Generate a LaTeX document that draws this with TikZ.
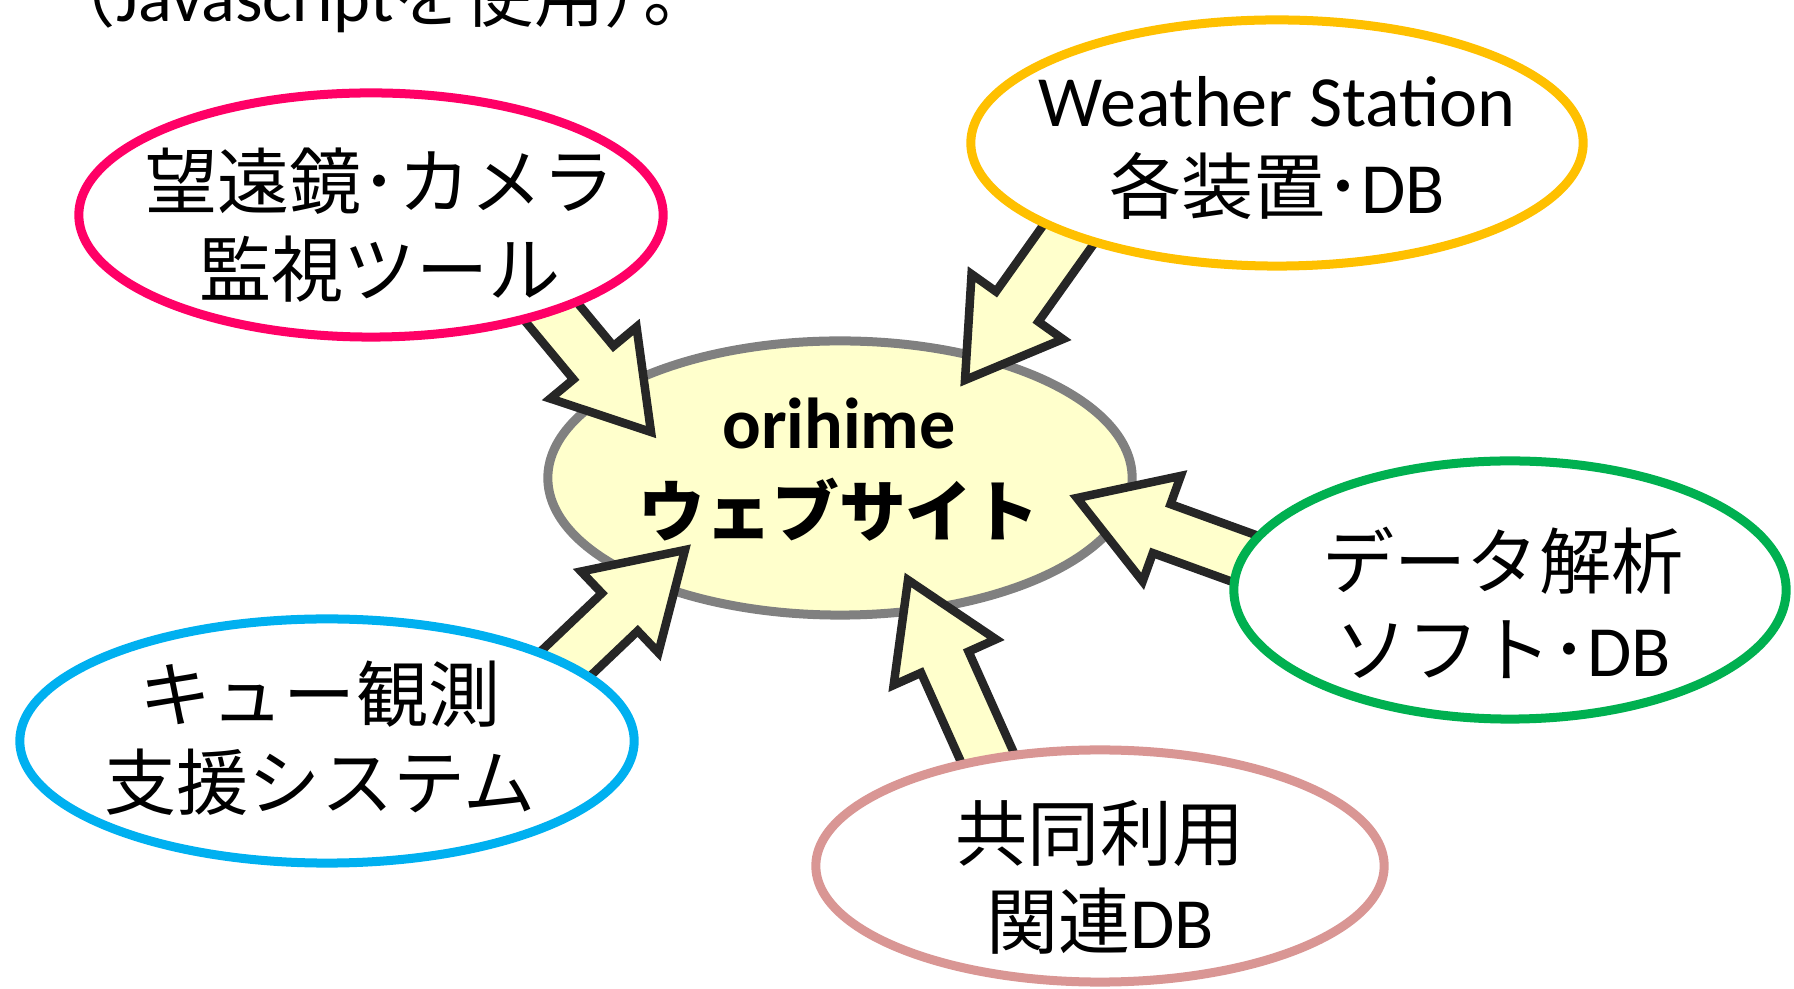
\documentclass[tikz,border=0pt]{standalone}
\usepackage{fontspec}
\setmainfont{Carlito}
\newfontfamily\jpf{Noto Sans CJK JP}
\usetikzlibrary{shapes.geometric, calc, positioning}
\definecolor{scopepink}{HTML}{FF0066}
\definecolor{wsorange}{HTML}{FFC000}
\definecolor{anagreen}{HTML}{00B050}
\definecolor{queueblue}{HTML}{00B0F0}
\definecolor{dbrose}{HTML}{D99694}
\definecolor{sitegray}{HTML}{808080}
\definecolor{sitefill}{HTML}{FFFFCC}
\definecolor{arrowink}{HTML}{262626}
\newcommand{\shafthalf}{0.26cm}
\newcommand{\headhalf}{0.56cm}
\newcommand{\headlen}{0.9cm}
% block arrow from tail #1 to tip #2
\newcommand{\feedarrow}[2]{%
  \coordinate (#2base) at ($(#2)!\headlen!(#1)$);
  \draw[feed] ($(#1)!\shafthalf!90:(#2)$) -- ($(#2base)!\shafthalf!90:(#2)$)
    -- ($(#2base)!\headhalf!90:(#2)$) -- (#2)
    -- ($(#2base)!\headhalf!-90:(#2)$) -- ($(#2base)!\shafthalf!-90:(#2)$)
    -- ($(#1)!\shafthalf!-90:(#2)$) -- cycle;
}

\begin{document}
\begin{tikzpicture}[x=0.01cm, y=-0.01cm,
		bubble/.style={ellipse, line width=0.9mm, fill=white, inner sep=0pt},
		bubbletext/.style={align=center, inner sep=0pt, font=\fontsize{20.5}{25}\selectfont},
		feed/.style={draw=arrowink, fill=sitefill, line width=0.85mm, line join=miter}]
		\pgfdeclarelayer{background layer}
		\pgfdeclarelayer{backbackground layer}
		\pgfsetlayers{backbackground layer, background layer, main}
		\useasboundingbox (0,0) rectangle (1794,989);
		\node[anchor=base west, inner sep=0pt, font=\fontsize{20}{25}\selectfont] (usage) at (45,22) {{\jpf （}Javascript{\jpf を使用）\kern-0.45em 。}};
		% outer bubbles
		\node[bubble, draw=scopepink, minimum width=5.84cm, minimum height=2.44cm] (cam) at (371,215) {};
		\node[bubble, draw=wsorange, minimum width=6.12cm, minimum height=2.46cm] (ws) at (1277,143) {};
		\node[bubble, draw=anagreen, minimum width=5.52cm, minimum height=2.58cm] (ana) at (1510,590) {};
		\node[bubble, draw=dbrose, minimum width=5.68cm, minimum height=2.32cm] (db) at (1100,866) {};
		\node[bubble, draw=queueblue, minimum width=6.14cm, minimum height=2.44cm] (queue) at (327,741) {};
		\node[bubbletext] (camlabel) at (380,225) {\jpf 望遠鏡･カメラ\\\jpf 監視ツール};
		\node[bubbletext] (wslabel) at (1277,148) {Weather Station\\{\jpf 各装置･}DB};
		\node[bubbletext] (analabel) at (1503,603) {\jpf データ解析\\{\jpf ソフト･}DB};
		\node[bubbletext] (dblabel) at (1100,877) {\jpf 共同利用\\{\jpf 関連}DB};
		\node[bubbletext] (queuelabel) at (320,738) {\jpf キュー観測\\\jpf 支援システム};
		% central site
		\begin{pgfonlayer}{backbackground layer}
		\node[ellipse, draw=sitegray, fill=sitefill, line width=0.9mm, inner sep=0pt, minimum width=5.84cm, minimum height=2.74cm] (site) at (840,478) {};
		\end{pgfonlayer}
		\node[bubbletext, font=\fontsize{20.5}{25}\selectfont\bfseries] (sitelabel) at (839,470) {orihime\\\fontsize{19}{25}\selectfont\jpf ウェブサイト};
		% arrows into the site
		\coordinate (camtail) at (523,278);   \coordinate (camtip) at (651,432);
		\coordinate (wstail) at (1081,217);   \coordinate (wstip) at (965,380);
		\coordinate (anatail) at (1265,566);  \coordinate (anatip) at (1077,498);
		\coordinate (dbtail) at (998,781);    \coordinate (dbtip) at (908,580);
		\coordinate (queuetail) at (540,688); \coordinate (queuetip) at (685,550);
		\begin{pgfonlayer}{background layer}
		\feedarrow{camtail}{camtip}
		\feedarrow{wstail}{wstip}
		\feedarrow{anatail}{anatip}
		\feedarrow{dbtail}{dbtip}
		\feedarrow{queuetail}{queuetip}
		\end{pgfonlayer}
	\end{tikzpicture}
\end{document}
